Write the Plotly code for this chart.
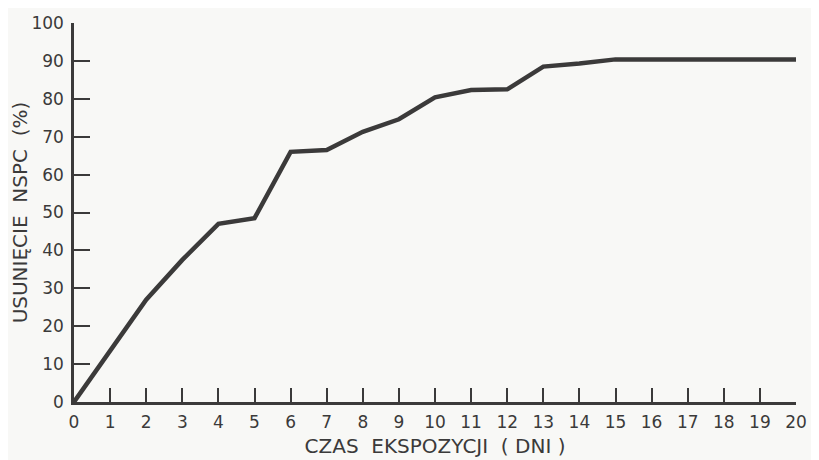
import plotly.graph_objects as go

days = list(range(0, 21))
removal = [0, 13.5, 27, 37.5, 47, 48.5, 66, 66.5, 71.3, 74.6, 80.4, 82.3, 82.5,
           88.5, 89.3, 90.4, 90.4, 90.4, 90.4, 90.4, 90.4]
x_ticks = list(range(0, 21))
y_ticks = list(range(0, 101, 10))

ink = "#3b3a3a"
bg = "#f8f8f6"

fig = go.Figure()
fig.add_trace(go.Scatter(x=days, y=removal, mode="lines",
                         line=dict(color=ink, width=4.5), cliponaxis=False,
                         showlegend=False))

fig.update_layout(
    width=811, height=452,
    margin=dict(l=66, r=23, t=15, b=58, autoexpand=False),
    paper_bgcolor=bg, plot_bgcolor=bg,
    font=dict(family="DejaVu Sans", color=ink, size=17),
    xaxis=dict(range=[0, 20], tickvals=x_ticks, ticks="inside", ticklen=14,
               tickwidth=2, tickcolor=ink, showline=True, linecolor=ink,
               linewidth=2.5, showgrid=False, zeroline=False, automargin=False,
               tickfont=dict(size=17), ticklabelstandoff=3,
               title=dict(text="CZAS  EKSPOZYCJI  ( DNI )", font=dict(size=20),
                          standoff=8)),
    yaxis=dict(range=[0, 100], tickvals=y_ticks, ticks="inside", ticklen=16,
               tickwidth=2, tickcolor=ink, showline=True, linecolor=ink,
               linewidth=2.5, showgrid=False, zeroline=False, automargin=False,
               tickfont=dict(size=17), ticklabelstandoff=4,
               title=dict(text="USUNIĘCIE  NSPC  (%)", font=dict(size=20),
                          standoff=8)),
)

fig.write_html("out.html")
